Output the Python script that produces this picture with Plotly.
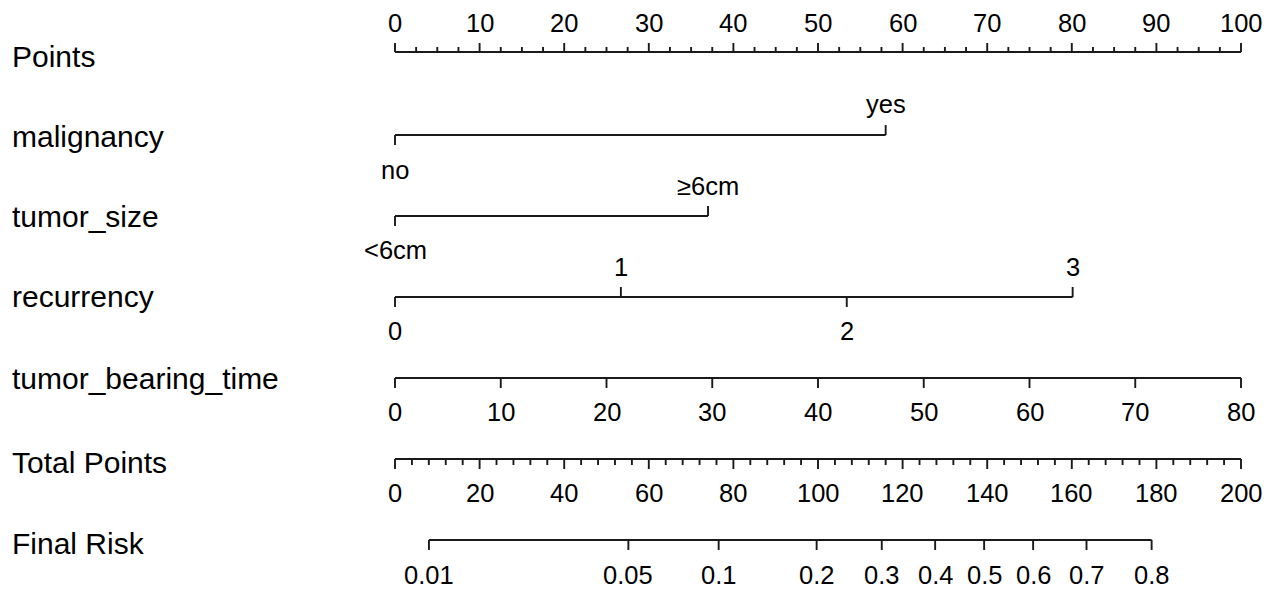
import numpy as np
import plotly.graph_objects as go

# ---------------- data (nomogram scales) ----------------
points_ticks = list(range(0, 101, 10))
points_minor_step = 2.5

malignancy_levels = ["no", "yes"]
malignancy_points = [0.0, 58.0]

tumor_size_levels = ["<6cm", "≥6cm"]
tumor_size_points = [0.0, 37.0]

recurrency_levels = ["0", "1", "2", "3"]
recurrency_points = [0.0, 26.7, 53.4, 80.1]

tbt_ticks = list(range(0, 81, 10))
tbt_max_value = 80
tbt_max_points = 100.0

total_ticks = list(range(0, 201, 20))
total_minor_step = 4
total_max = 200

risk_ticks = [0.01, 0.05, 0.1, 0.2, 0.3, 0.4, 0.5, 0.6, 0.7, 0.8]
risk_labels = ["0.01", "0.05", "0.1", "0.2", "0.3", "0.4", "0.5", "0.6", "0.7", "0.8"]
lp_intercept = -4.876   # logit(risk) = intercept + slope * total points
lp_slope = 0.03501

row_names = ["Points", "malignancy", "tumor_size", "recurrency",
             "tumor_bearing_time", "Total Points", "Final Risk"]

# ---------------- layout constants ----------------
W, H = 1274, 590
X0_PX, X100_PX = 395, 1241
PPU = (X100_PX - X0_PX) / 100.0
XMIN = -X0_PX / PPU
XMAX = XMIN + W / PPU

row_y = [52, 135, 216, 297, 378, 459, 540]
label_y = [56, 136, 216, 296, 378, 462, 543]
TICK_FONT = dict(family="Liberation Sans, Arial, sans-serif", size=25.5, color="black")
NAME_FONT = dict(family="Liberation Sans, Arial, sans-serif", size=30, color="black")
LINE_COLOR = "#1a1a1a"

lx, ly = [], []
annotations = []


def seg(x0, y0, x1, y1):
    lx.extend([x0, x1, None])
    ly.extend([y0, y1, None])


def label(x, y, text, height=None):
    a = dict(x=x, y=y, xref="x", yref="y", text=text, showarrow=False,
             xanchor="center", yanchor="middle", font=TICK_FONT, borderpad=0)
    if height is not None:
        a["height"] = height
    annotations.append(a)


# Points row: ticks up, labels above
y = row_y[0]
seg(0, y, 100, y)
for v in np.arange(0, 100 + 1e-9, points_minor_step):
    major = abs(v / 10 - round(v / 10)) < 1e-9
    seg(v, y, v, y - (9 if major else 5))
for v in points_ticks:
    label(v, 23, str(v))

# categorical rows: alternate labels down/up
def cat_row(levels, pts, y, up_y, down_y):
    seg(min(pts), y, max(pts), y)
    for i, (lev, p) in enumerate(zip(levels, pts)):
        if i % 2 == 0:
            seg(p, y, p, y + 10)
            label(p, down_y, lev)
        else:
            seg(p, y, p, y - 10)
            label(p, up_y, lev)

cat_row(malignancy_levels, malignancy_points, row_y[1], 104, 170)
cat_row(tumor_size_levels, tumor_size_points, row_y[2], 186, 250)
cat_row(recurrency_levels, recurrency_points, row_y[3], 267, 331)

# tumor_bearing_time
y = row_y[4]
scale = tbt_max_points / tbt_max_value
seg(0, y, tbt_max_value * scale, y)
for v in tbt_ticks:
    seg(v * scale, y, v * scale, y + 10)
    label(v * scale, 412, str(v))

# Total points
y = row_y[5]
tscale = 100.0 / total_max
seg(0, y, total_max * tscale, y)
for v in range(0, total_max + 1, total_minor_step):
    major = v % 20 == 0
    seg(v * tscale, y, v * tscale, y + (10 if major else 6))
for v in total_ticks:
    label(v * tscale, 493, str(v))

# Final risk
y = row_y[6]
risk_x = [((np.log(p / (1 - p)) - lp_intercept) / lp_slope) * tscale for p in risk_ticks]
seg(min(risk_x), y, max(risk_x), y)
for xv, txt in zip(risk_x, risk_labels):
    seg(xv, y, xv, y + 10)
    label(xv, 575, txt, height=22)

# row names
for name, yy in zip(row_names, label_y):
    annotations.append(dict(x=11 / W, y=yy, xref="paper", yref="y", text=name, showarrow=False,
                            xanchor="left", yanchor="middle", font=NAME_FONT, borderpad=0))

fig = go.Figure()
fig.add_trace(go.Scatter(x=lx, y=ly, mode="lines",
                         line=dict(color=LINE_COLOR, width=1.9),
                         hoverinfo="skip", showlegend=False))
fig.update_layout(
    width=W, height=H,
    margin=dict(l=0, r=0, t=0, b=0),
    paper_bgcolor="white", plot_bgcolor="white",
    xaxis=dict(range=[XMIN, XMAX], visible=False, fixedrange=True),
    yaxis=dict(range=[H, 0], visible=False, fixedrange=True),
    annotations=annotations,
    showlegend=False,
)
fig.write_html("out.html")
